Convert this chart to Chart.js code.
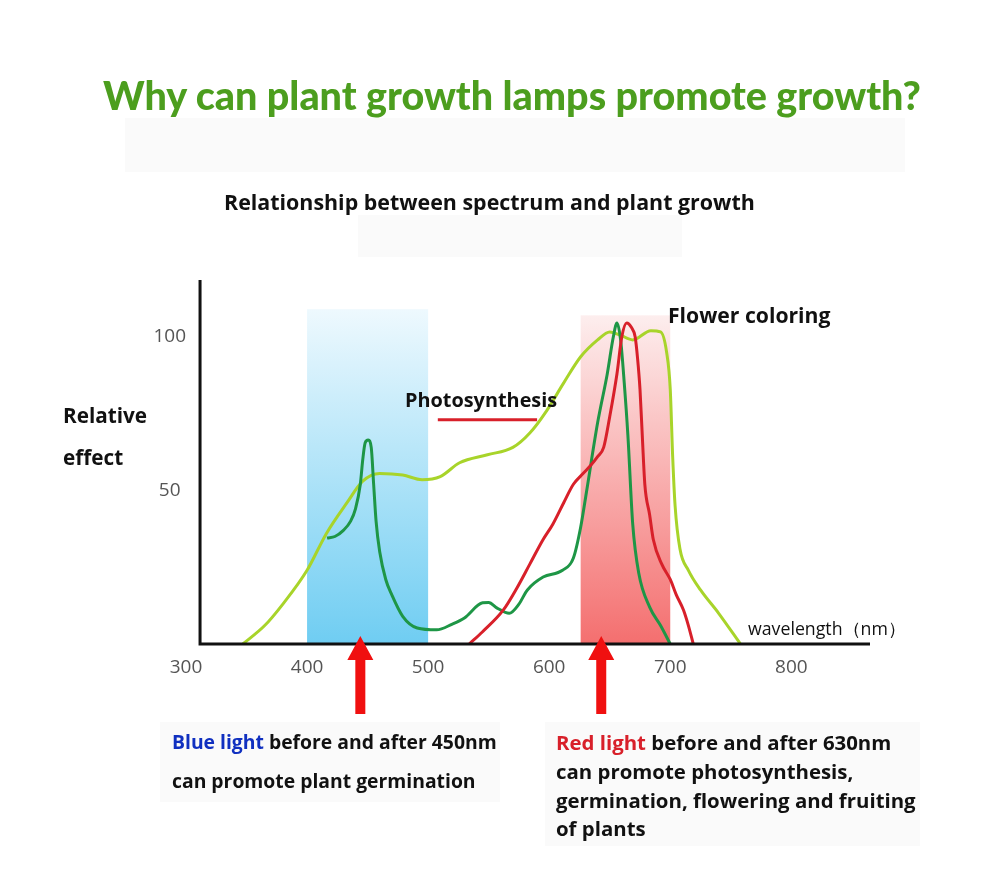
<!DOCTYPE html>
<html>
<head>
<meta charset="utf-8">
<script src="https://cdn.jsdelivr.net/npm/chart.js@4.4.1/dist/chart.umd.min.js"></script>
<style>
  body { margin: 0; background: #fff; }
  #wrap { position: relative; width: 1000px; height: 887px; overflow: hidden; font-family: 'Open Sans', Lato, sans-serif; color: #111; }
  #wrap canvas { position: absolute; left: 0; top: 0; }
  .box { position: absolute; background: #fafafa; }
  .t { position: absolute; white-space: nowrap; font-weight: bold; line-height: 1; transform: translateY(-50%); font-size: 20px; }
  #title { color: #4c9e1e; font-family: Lato, sans-serif; font-weight: 900; font-size: 38px; }
</style>
</head>
<body>
<div id="wrap">
  <div class="box" style="left:125px;top:118px;width:780px;height:54px"></div>
  <div class="box" style="left:358px;top:215px;width:324px;height:42px"></div>
  <div class="box" style="left:160px;top:722px;width:340px;height:80px"></div>
  <div class="box" style="left:545px;top:722px;width:375px;height:124px"></div>
  <canvas id="chart" width="1000" height="887"></canvas>
  <div class="t" id="title" data-w="818" style="left:103px;top:95px">Why can plant growth lamps promote growth?</div>
  <div class="t" data-w="531" style="left:224px;top:202px">Relationship between spectrum and plant growth</div>
  <div class="t" data-w="84" data-g="rel" style="left:63px;top:415px">Relative</div>
  <div class="t" data-w="60" data-g="rel" style="left:63px;top:457px">effect</div>
  <div class="t" data-w="152" style="left:405px;top:400px">Photosynthesis</div>
  <div class="t" data-w="162" style="left:668px;top:315px">Flower coloring</div>
  <div class="t" data-w="157" style="left:748px;top:629px;font-weight:normal">wavelength（nm）</div>
  <div class="t" data-w="310" data-g="blue" style="left:172px;top:742px"><span style="color:#1030c0">Blue light</span> before and after 450nm</div>
  <div class="t" data-w="318" data-g="blue" style="left:172px;top:781px">can promote plant germination</div>
  <div class="t" data-w="341" data-g="red" style="left:556px;top:742px"><span style="color:#d8202a">Red light</span> before and after 630nm</div>
  <div class="t" data-w="300" data-g="red" style="left:556px;top:771px">can promote photosynthesis,</div>
  <div class="t" data-w="355" data-g="red" style="left:556px;top:800px">germination, flowering and fruiting</div>
  <div class="t" data-w="89" data-g="red" style="left:556px;top:828px">of plants</div>
</div>
<script>
// wavelength (nm) and relative effect
var lightNm  = [347, 365, 380, 400, 416, 433, 446, 460, 479, 495, 510, 526, 549, 570, 584, 598, 612, 626, 640, 650, 659, 669, 684, 692, 697, 700, 702, 704, 708, 715, 725, 740, 758];
var lightVal = [0, 6, 13, 24, 36, 46, 53, 55.5, 55, 53.5, 54.5, 59, 61.6, 64, 68.7, 76, 85, 93.5, 99, 101.6, 100.5, 99, 102, 101.6, 95, 83, 61, 45, 31, 24, 17.6, 10, 0];

var darkNm  = [416.5, 423, 430, 436, 440, 444, 446, 448, 450.5, 453, 455, 457, 460, 465, 470, 479, 491, 507, 520, 530, 545, 550, 557, 567, 575, 582, 595, 611, 620, 626, 631, 640, 648, 653, 656, 659, 662, 665, 669, 674, 683, 692, 700];
var darkVal = [34.5, 35, 37, 40, 44, 52, 60, 65.5, 66.4, 64, 52, 40, 30, 21, 16, 9, 5.2, 4.6, 6.5, 8.5, 13.4, 13.5, 11.7, 10, 13, 17.6, 21.8, 24, 28, 38, 50, 72, 88, 100, 104.5, 99, 85, 68, 39, 23, 12, 6, 0];

var redNm  = [534, 545, 562, 573, 584, 595, 603, 612, 620, 628, 634, 640, 645, 650, 656, 660, 664, 668, 671, 673, 675, 677, 679, 683, 686, 693, 700, 705, 711, 715, 719];
var redVal = [0, 4, 11, 18, 26, 34, 39, 46, 52, 55.5, 58, 61, 64, 74, 88, 100, 104.5, 103, 100, 93, 83, 67, 52, 42, 34, 26, 21, 16, 11, 6, 0];

var blueBand = [400, 500, 109];   // from nm, to nm, top
var redBand  = [626, 700, 107];
var arrowsAt = [444, 643];        // nm
var photoKey = [508, 590, 73];    // red key line under "Photosynthesis"
var axisStart = 311.6;            // where the drawn axes cross

// size each text line to the width it has in the picture,
// lines of one block share the mean size
var groups = {};
document.querySelectorAll('.t[data-w]').forEach(function(el) {
    var fs = parseFloat(getComputedStyle(el).fontSize);
    var size = fs * el.getAttribute('data-w') / el.offsetWidth;
    var g = el.getAttribute('data-g');
    if (g) {
        (groups[g] = groups[g] || []).push([el, size]);
    } else {
        el.style.fontSize = size.toFixed(2) + 'px';
    }
});
Object.keys(groups).forEach(function(k) {
    var list = groups[k];
    var mean = list.reduce(function(s, p) { return s + p[1]; }, 0) / list.length;
    list.forEach(function(p) { p[0].style.fontSize = mean.toFixed(2) + 'px'; });
});

function pts(xs, ys) {
    return xs.map(function(v, i) { return {x: v, y: ys[i]}; });
}

var decor = {
    id: 'decor',
    beforeDatasetsDraw: function(chart) {
        var ctx = chart.ctx, x = chart.scales.x, y = chart.scales.y;
        [[blueBand, '#eef9fe', '#6fcdf2'], [redBand, '#fdeeee', '#f46f6f']].forEach(function(b) {
            var x0 = x.getPixelForValue(b[0][0]), x1 = x.getPixelForValue(b[0][1]);
            var yt = y.getPixelForValue(b[0][2]), yb = y.getPixelForValue(0);
            var g = ctx.createLinearGradient(0, yt, 0, yb);
            g.addColorStop(0, b[1]);
            g.addColorStop(1, b[2]);
            ctx.fillStyle = g;
            ctx.fillRect(x0, yt, x1 - x0, yb - yt);
        });
    },
    afterDatasetsDraw: function(chart) {
        var ctx = chart.ctx, x = chart.scales.x, y = chart.scales.y, a = chart.chartArea;
        var x0 = x.getPixelForValue(axisStart), y0 = y.getPixelForValue(0);
        ctx.save();
        ctx.strokeStyle = '#111';
        ctx.lineWidth = 3;
        ctx.beginPath();
        ctx.moveTo(x0, a.top);
        ctx.lineTo(x0, y0);
        ctx.lineTo(a.right, y0);
        ctx.stroke();

        ctx.strokeStyle = '#d8202a';
        ctx.lineWidth = 3;
        ctx.beginPath();
        ctx.moveTo(x.getPixelForValue(photoKey[0]), y.getPixelForValue(photoKey[2]));
        ctx.lineTo(x.getPixelForValue(photoKey[1]), y.getPixelForValue(photoKey[2]));
        ctx.stroke();

        ctx.fillStyle = '#f01010';
        arrowsAt.forEach(function(nm) {
            var cx = x.getPixelForValue(nm), tip = y0 - 8;
            ctx.beginPath();
            ctx.moveTo(cx, tip);
            ctx.lineTo(cx + 13, tip + 24);
            ctx.lineTo(cx + 5, tip + 24);
            ctx.lineTo(cx + 5, tip + 78);
            ctx.lineTo(cx - 5, tip + 78);
            ctx.lineTo(cx - 5, tip + 24);
            ctx.lineTo(cx - 13, tip + 24);
            ctx.closePath();
            ctx.fill();
        });
        ctx.restore();
    }
};

var ctx = document.getElementById('chart').getContext('2d');
var chart = new Chart(ctx, {
    type: 'line',
    data: {
        datasets: [
            {
                label: 'Photosynthesis',
                data: pts(redNm, redVal),
                borderColor: '#d8202a',
                order: 0
            },
            {
                label: 'Chlorophyll',
                data: pts(darkNm, darkVal),
                borderColor: '#1e9646',
                order: 1
            },
            {
                label: 'Flower coloring',
                data: pts(lightNm, lightVal),
                borderColor: '#a8d42a',
                order: 2
            }
        ]
    },
    options: {
        responsive: false,
        animation: false,
        datasets: {
            line: {
                borderWidth: 3,
                pointRadius: 0,
                fill: false,
                cubicInterpolationMode: 'monotone'
            }
        },
        layout: {
            padding: {left: 0, right: 130, top: 280, bottom: 203}
        },
        plugins: {
            legend: {display: false},
            tooltip: {enabled: false}
        },
        scales: {
            x: {
                type: 'linear',
                min: 300,
                max: 865,
                grid: {display: false, drawTicks: false},
                border: {display: false},
                afterFit: function(s) { s.height = 40; },
                ticks: {
                    stepSize: 100,
                    autoSkip: false,
                    maxRotation: 0,
                    padding: 12,
                    color: '#555',
                    font: {family: "'Open Sans'", size: 19},
                    callback: function(v) { return v % 100 === 0 && v <= 800 ? String(v) : ''; }
                }
            },
            y: {
                min: 0,
                max: 118.5,
                grid: {display: false, drawTicks: false},
                border: {display: false},
                afterFit: function(s) { s.width = 186; },
                ticks: {
                    stepSize: 50,
                    crossAlign: 'center',
                    padding: 0,
                    color: '#555',
                    font: {family: "'Open Sans'", size: 19},
                    callback: function(v) { return v === 50 || v === 100 ? String(v) : ''; }
                }
            }
        }
    },
    plugins: [decor]
});
</script>
</body>
</html>
